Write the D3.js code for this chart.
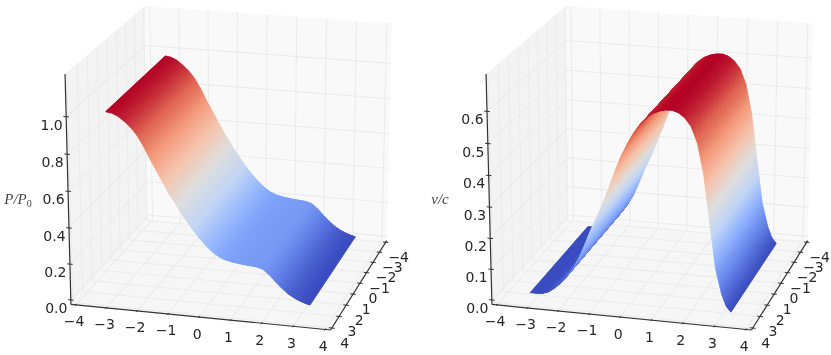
<!DOCTYPE html>
<html>
<head>
<meta charset="utf-8">
<script src="https://cdn.jsdelivr.net/npm/d3@7"></script>
<style>
  html, body { margin: 0; padding: 0; background: white; }
  svg { display: block; filter: blur(0.45px); }
  text { font-family: "DejaVu Sans", sans-serif; fill: #262626; }
</style>
</head>
<body>
<script>
const xValues = [-3.2, -3.0, -2.8, -2.6, -2.4, -2.2, -2.0, -1.8, -1.6, -1.4, -1.2, -1.0, -0.8, -0.6, -0.4, -0.2,
  0, 0.2, 0.4, 0.6, 0.8, 1.0, 1.2, 1.4, 1.6, 1.8, 2.0, 2.2, 2.4, 2.6, 2.8, 3.0, 3.15, 3.3];
const yEdges = [-3.2, 3.25];
const pressure = [0.995, 0.99, 0.975, 0.95, 0.92, 0.88, 0.825, 0.76, 0.70, 0.64, 0.58, 0.53, 0.475, 0.43, 0.385, 0.345,
  0.31, 0.28, 0.258, 0.245, 0.237, 0.232, 0.228, 0.225, 0.222, 0.212, 0.185, 0.15, 0.118, 0.09, 0.07, 0.055, 0.046, 0.04];
const velocity = [0, 0, 0.001, 0.008, 0.022, 0.04, 0.063, 0.09, 0.125, 0.17, 0.22, 0.262, 0.31, 0.36, 0.415, 0.465,
  0.505, 0.54, 0.568, 0.59, 0.605, 0.614, 0.619, 0.62, 0.614, 0.6, 0.575, 0.525, 0.43, 0.28, 0.135, 0.055, 0.018, 0];
const xTicks = [-4, -3, -2, -1, 0, 1, 2, 3, 4];
const yTicks = [-4, -3, -2, -1, 0, 1, 2, 3, 4];
const pTicks = [0, 0.2, 0.4, 0.6, 0.8, 1.0];
const vTicks = [0, 0.1, 0.2, 0.3, 0.4, 0.5, 0.6];
const coolwarm = ["#3b4cc0", "#6282ea", "#8db0fe", "#c0d4f5", "#dddddd", "#f5c4ad", "#f49a7b", "#de604d", "#b40426"];

const W = 831, H = 355;
const XLIM = 4 + 8 / 48;
const ELEV = 20 * Math.PI / 180, AZIM = -75 * Math.PI / 180, DIST = 10;
const SX = 262, SY = 238, CX = 234, CY = 161.5;

const svg = d3.select("body").append("svg").attr("width", W).attr("height", H);

function makeProjection(zlim) {
  const wx = d3.scaleLinear([-XLIM, XLIM], [-0.5, 0.5]);
  const wy = d3.scaleLinear([-XLIM, XLIM], [0.5, -0.5]);  // y = -4 sits at the back
  const wz = d3.scaleLinear(zlim, [-0.5, 0.5]);
  const n = [Math.cos(ELEV) * Math.cos(AZIM), Math.cos(ELEV) * Math.sin(AZIM), Math.sin(ELEV)];
  const r = [-Math.sin(AZIM), Math.cos(AZIM), 0];
  const u = [-Math.sin(ELEV) * Math.cos(AZIM), -Math.sin(ELEV) * Math.sin(AZIM), Math.cos(ELEV)];
  const dot = (a, b) => a[0] * b[0] + a[1] * b[1] + a[2] * b[2];
  const proj = (x, y, z) => {
    const p = [wx(x), wy(y), wz(z)];
    const f = DIST / (DIST - dot(p, n));
    return [CX + SX * dot(p, r) * f, CY - SY * dot(p, u) * f];
  };
  proj.depth = (x, y, z) => dot([wx(x), wy(y), wz(z)], n);
  return proj;
}

function drawPanel(root, values, zTicks, zlim, fmt, zTitle) {
  const proj = makeProjection(zlim);
  const line = d3.line();
  const [z0, z1] = zlim;
  const L = -XLIM, R = XLIM;

  const pane = (pts, fill) => root.append("path").attr("d", line(pts) + "Z").attr("fill", fill);
  pane([proj(L, R, z0), proj(L, L, z0), proj(L, L, z1), proj(L, R, z1)], "#f3f3f3");
  pane([proj(L, L, z0), proj(R, L, z0), proj(R, L, z1), proj(L, L, z1)], "#f9f9f9");
  pane([proj(L, R, z0), proj(R, R, z0), proj(R, L, z0), proj(L, L, z0)], "#f6f6f6");

  const grid = (a, b) => root.append("path").attr("d", line([a, b]))
    .attr("stroke", "#ebebeb").attr("stroke-width", 1.1).attr("fill", "none");
  xTicks.forEach(x => {
    grid(proj(x, R, z0), proj(x, L, z0));
    grid(proj(x, L, z0), proj(x, L, z1));
  });
  yTicks.forEach(y => {
    grid(proj(L, y, z0), proj(R, y, z0));
    grid(proj(L, y, z0), proj(L, y, z1));
  });
  zTicks.forEach(z => {
    grid(proj(L, R, z), proj(L, L, z));
    grid(proj(L, L, z), proj(R, L, z));
  });

  const axis = (a, b, w) => root.append("path").attr("d", line([a, b]))
    .attr("stroke", "#333").attr("stroke-width", w).attr("fill", "none");
  axis(proj(L, R, z0), proj(L, R, z1), 1.2);
  axis(proj(L, R, z0), proj(R, R, z0), 1.2);
  axis(proj(R, R, z0), proj(R, L, z0), 1.2);

  const tick = 0.09;
  const label = (pos, dx, dy, s) => root.append("text")
    .attr("x", pos[0] + dx).attr("y", pos[1] + dy)
    .attr("text-anchor", "middle").attr("font-size", 14).text(s);
  const fmtInt = d3.format("d");
  const minus = s => s.replace("-", "\u2212");
  xTicks.forEach(x => {
    axis(proj(x, R - tick, z0), proj(x, R + tick, z0), 1);
    label(proj(x, R, z0), -2, 21.5, minus(fmtInt(x)));
  });
  yTicks.forEach(y => {
    axis(proj(R - tick, y, z0), proj(R + tick, y, z0), 1);
    label(proj(R, y, z0), 13, 20, minus(fmtInt(y)));
  });
  zTicks.forEach(z => {
    axis(proj(L - tick, R, z), proj(L + tick, R, z), 1);
    label(proj(L, R, z), -14.5, 13, fmt(z));
  });

  // surface, one strip per small x step, painted far to near
  const profile = d3.scaleLinear(xValues, values);
  const zExtent = d3.extent(values);
  const colorStops = coolwarm.map((c, i) => zExtent[0] + (zExtent[1] - zExtent[0]) * i / (coolwarm.length - 1));
  const color = d3.scaleLinear(colorStops, coolwarm);
  const sub = 12;
  const strips = [];
  for (var i = 0; i < xValues.length - 1; ++i) {
    const step = (xValues[i + 1] - xValues[i]) / sub;
    for (var j = 0; j < sub; ++j) {
      const a = xValues[i] + j * step, b = a + step;
      const m = profile((a + b) / 2);
      strips.push({a: a, b: b, m: m, depth: proj.depth((a + b) / 2, 0, m)});
    }
  }
  strips.sort((p, q) => p.depth - q.depth);
  root.append("g").selectAll("path").data(strips).join("path")
    .attr("d", d => line([
      proj(d.a, yEdges[0], profile(d.a)), proj(d.b, yEdges[0], profile(d.b)),
      proj(d.b, yEdges[1], profile(d.b)), proj(d.a, yEdges[1], profile(d.a))
    ]) + "Z")
    .attr("fill", d => color(d.m))
    .attr("stroke", d => color(d.m))
    .attr("stroke-width", 0.8);

  zTitle(root);
}

const left = svg.append("g");
drawPanel(left, pressure, pTicks, [-0.025, 1.225], d3.format(".1f"), g => {
  const t = g.append("text").attr("x", 18).attr("y", 204).attr("text-anchor", "middle")
    .style("font-family", "'Liberation Serif', serif").style("font-style", "italic")
    .attr("font-size", 15).style("fill", "#444");
  t.append("tspan").text("P/P");
  t.append("tspan").attr("dy", 3).attr("font-size", 10).style("font-style", "normal").text("0");
});

const right = svg.append("g").attr("transform", "translate(421,0)");
drawPanel(right, velocity, vTicks, [-0.0146, 0.7146], d3.format(".1f"), g => {
  g.append("text").attr("x", 19).attr("y", 204).attr("text-anchor", "middle")
    .style("font-family", "'Liberation Serif', serif").style("font-style", "italic")
    .attr("font-size", 15).style("fill", "#444").text("v/c");
});
</script>
</body>
</html>
